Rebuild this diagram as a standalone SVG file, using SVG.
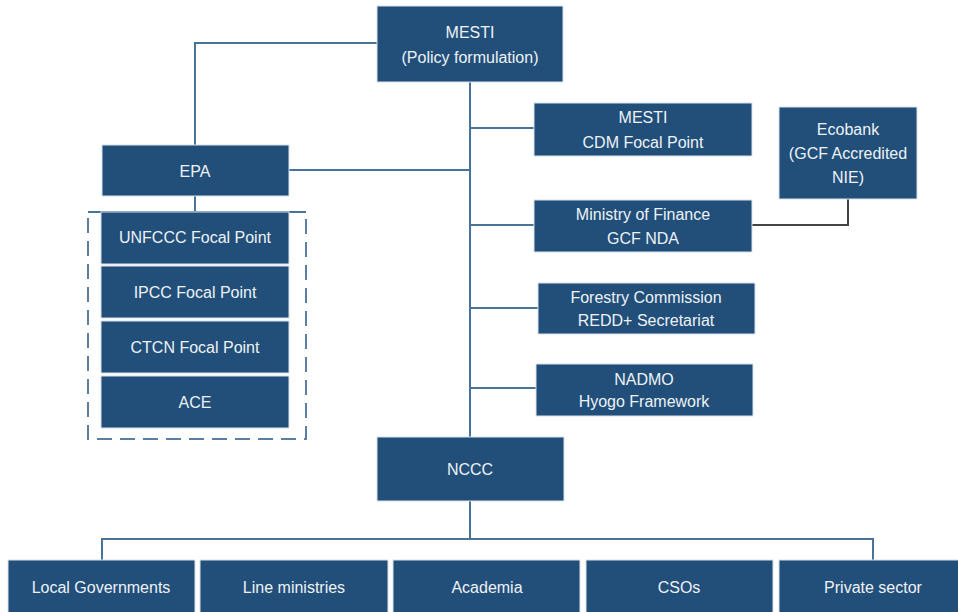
<svg xmlns="http://www.w3.org/2000/svg" width="958" height="612" viewBox="0 0 958 612">
<style>
.b{fill:#214f7a;stroke:#d9e2ea;stroke-width:1}
.t{fill:#eef2f6;font-family:"Liberation Sans",Arial,sans-serif;font-size:16px;text-anchor:middle}
.c{fill:none;stroke:#4a7399;stroke-width:2}
.d{fill:none;stroke:#5a7fa3;stroke-width:2;stroke-dasharray:15 8}
</style>
<rect width="958" height="612" fill="#ffffff"/>
<g id="connectors">
<path class="c" d="M377 43H195V145"/>
<path class="c" d="M470 82V437"/>
<path class="c" d="M289 170H470"/>
<path class="c" d="M470 128H534"/>
<path class="c" d="M470 225H534"/>
<path class="c" d="M470 308H538"/>
<path class="c" d="M470 388H536"/>
<path class="c" d="M195 196V212"/>
<path class="c" d="M88 212H306"/>
<path d="M752 225H848V199" fill="none" stroke="#444" stroke-width="2"/>
<path class="c" d="M470 501V539"/>
<path class="c" d="M102 560V539H873V560"/>
</g>
<path class="d" d="M88 218V439H306V218"/>
<g id="mesti"><rect class="b" x="377" y="6" width="186" height="76"/><text class="t" x="470" y="38">MESTI</text><text class="t" x="470" y="63">(Policy formulation)</text></g>
<g id="epa"><rect class="b" x="102" y="145" width="187" height="51"/><text class="t" x="195" y="177">EPA</text></g>
<g id="unfccc"><rect class="b" x="101" y="212" width="188" height="52"/><text class="t" x="195" y="243">UNFCCC Focal Point</text></g>
<g id="ipcc"><rect class="b" x="101" y="266" width="188" height="52"/><text class="t" x="195" y="298">IPCC Focal Point</text></g>
<g id="ctcn"><rect class="b" x="101" y="321" width="188" height="52"/><text class="t" x="195" y="353">CTCN Focal Point</text></g>
<g id="ace"><rect class="b" x="101" y="376" width="188" height="52"/><text class="t" x="195" y="408">ACE</text></g>
<g id="mesti-cdm"><rect class="b" x="534" y="103" width="218" height="53"/><text class="t" x="643" y="123">MESTI</text><text class="t" x="643" y="148">CDM Focal Point</text></g>
<g id="ecobank"><rect class="b" x="779" y="107" width="138" height="92"/><text class="t" x="848" y="135">Ecobank</text><text class="t" x="848" y="159">(GCF Accredited</text><text class="t" x="848" y="183">NIE)</text></g>
<g id="mof"><rect class="b" x="534" y="200" width="218" height="52"/><text class="t" x="643" y="220">Ministry of Finance</text><text class="t" x="643" y="244">GCF NDA</text></g>
<g id="forestry"><rect class="b" x="538" y="283" width="217" height="51"/><text class="t" x="646" y="303">Forestry Commission</text><text class="t" x="646" y="326">REDD+ Secretariat</text></g>
<g id="nadmo"><rect class="b" x="536" y="364" width="217" height="52"/><text class="t" x="644" y="385">NADMO</text><text class="t" x="644" y="407">Hyogo Framework</text></g>
<g id="nccc"><rect class="b" x="377" y="437" width="187" height="64"/><text class="t" x="470" y="475">NCCC</text></g>
<g id="local-gov"><rect class="b" x="8" y="560" width="187" height="56"/><text class="t" x="101" y="593">Local Governments</text></g>
<g id="line-ministries"><rect class="b" x="200" y="560" width="188" height="56"/><text class="t" x="294" y="593">Line ministries</text></g>
<g id="academia"><rect class="b" x="393" y="560" width="187" height="56"/><text class="t" x="487" y="593">Academia</text></g>
<g id="csos"><rect class="b" x="586" y="560" width="187" height="56"/><text class="t" x="679" y="593">CSOs</text></g>
<g id="private"><rect class="b" x="779" y="560" width="185" height="56"/><text class="t" x="873" y="593">Private sector</text></g>
</svg>
